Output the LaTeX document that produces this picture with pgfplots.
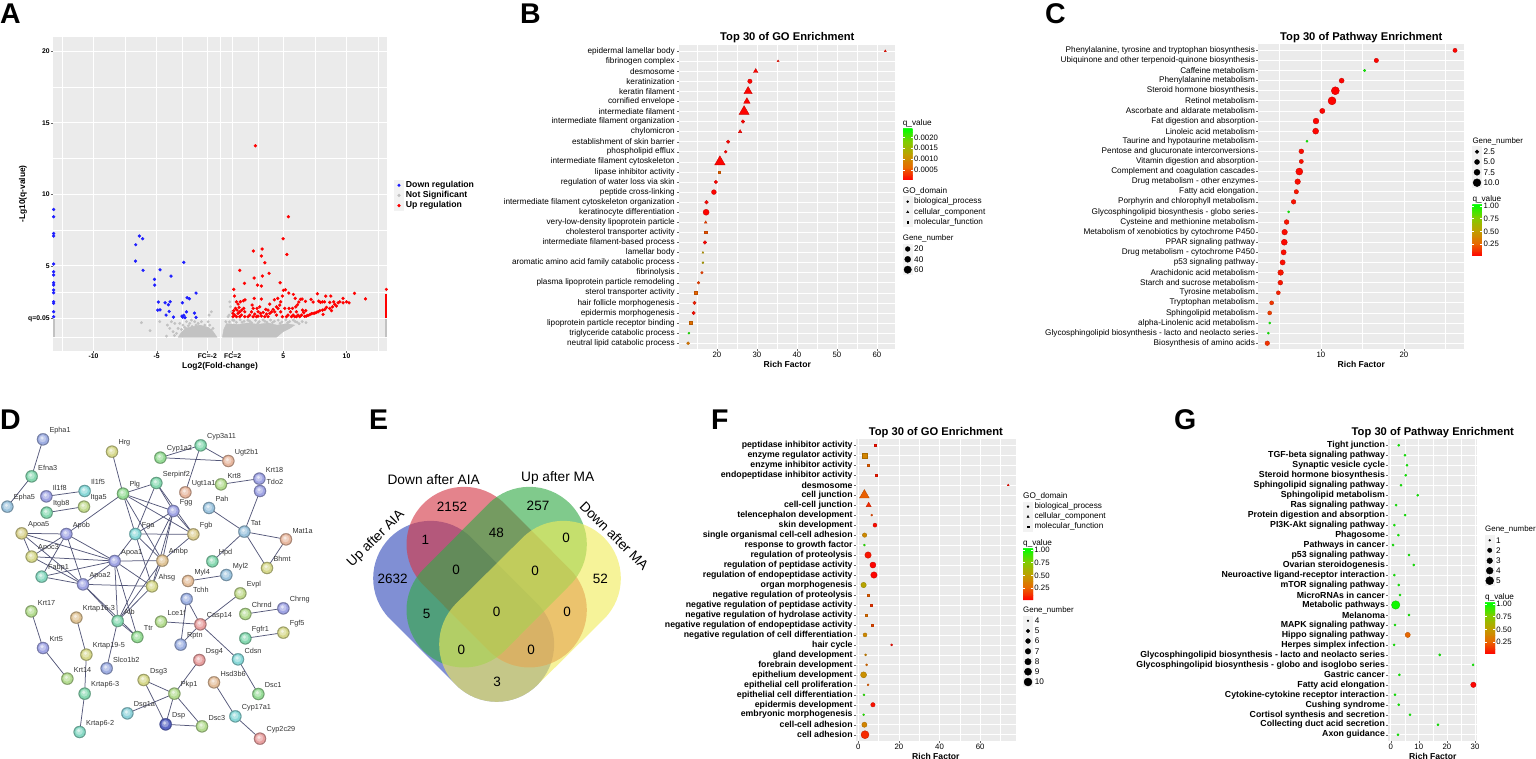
\documentclass[border=0pt]{standalone}
\usepackage{fontspec}
\setmainfont{Liberation Sans}
\usepackage{pgfplots}
\usepackage{pgfplotstable}
\pgfplotsset{compat=1.18}

\definecolor{panelbg}{HTML}{EBEBEB}
\definecolor{keybg}{HTML}{F2F2F2}
\definecolor{upred}{HTML}{FF0000}
\definecolor{downblue}{HTML}{1E1EFF}
\definecolor{nsgray}{HTML}{C2C2C2}
\definecolor{edgec}{HTML}{55587A}
\definecolor{vblue}{RGB}{50,75,185}
\definecolor{vred}{RGB}{212,55,70}
\definecolor{vgreen}{RGB}{50,170,70}
\definecolor{vyellow}{RGB}{240,235,90}
% string node colours
\definecolor{pblue}{HTML}{A0A4E4}
\definecolor{psky}{HTML}{9CC4DE}
\definecolor{pdark}{HTML}{5A66C4}
\definecolor{pgreen}{HTML}{96DC96}
\definecolor{plime}{HTML}{B4DC90}
\definecolor{pmint}{HTML}{86D8B0}
\definecolor{pcyan}{HTML}{88D8D8}
\definecolor{pyellow}{HTML}{D6D88C}
\definecolor{ptan}{HTML}{E0C496}
\definecolor{psalmon}{HTML}{E8B8A0}
\definecolor{ppink}{HTML}{E8A0A0}

\pgfplotsset{
  colormap={rg}{rgb255(0cm)=(255,0,0); rgb255(1cm)=(232,105,0); rgb255(2cm)=(190,160,0); rgb255(3cm)=(127,205,0); rgb255(4cm)=(0,255,0)},
  /pgf/number format/assume math mode=true,
  panel/.style={
    scale only axis, anchor=south west,
    axis background/.style={fill=panelbg},
    axis line style={draw=none},
    grid=both,
    major grid style={white,line width=0.7pt},
    minor grid style={white,line width=0.35pt},
    major tick length=2pt, minor tick length=0pt,
    tick pos=left, tick align=outside,
    tick style={color=black!60,line width=0.4pt},
    title style={font=\fontsize{11.2}{12}\bfseries,at={(0.5,1)},anchor=center,yshift=1pt},
    xlabel style={font=\fontsize{8.6}{10}\bfseries,at={(0.5,0)},anchor=center,yshift=-15.4pt},
    x tick label style={font=\fontsize{7.8}{9}\selectfont,inner sep=1pt},
    y tick label style={font=\fontsize{8.2}{9}\selectfont,inner sep=1.2pt},
  },
  enrich/.style={
    panel,
    y dir=reverse, ymin=0.4, ymax=30.6, ytick={1,...,30},
    colormap name=rg,
    xlabel={Rich Factor},
  },
  bub/.style={
    scatter, only marks, mark=#1, point meta=\thisrow{q},
    visualization depends on={\thisrow{r}\as\rr},
    scatter/@pre marker code/.append style={/tikz/mark size=\rr},
  },
  qbar/.style n args={3}{
    colorbar sampled,
    colorbar style={
      at={(#1,#2)}, anchor=north west, width=10pt, height=51.7pt,
      samples=60, axis line style={draw=none},
      tick align=inside, major tick length=2pt,
      scaled y ticks=false,
      ytick style={color=white,line width=0.3pt},
      y tick label style={font=\fontsize{7.8}{9}\selectfont,inner sep=1.2pt},
      #3
    },
  },
  net/.style={
    scale only axis, anchor=south west, hide axis, clip=false,
    xmin=0, xmax=1020, ymin=0, ymax=1137, y dir=reverse,
    width=340pt, height=379pt,
  },
}

\newcommand{\lab}[3]{\node[anchor=west,inner sep=0pt,font=\fontsize{#3}{#3}\selectfont] at (axis cs:#1) {#2};}
\newcommand{\panlab}[3]{\node[anchor=base west,inner sep=0pt,font=\fontsize{28.5}{30}\bfseries] at (axis cs:#1,#2) {#3};}
\newcommand{\keybar}[3]{\addplot[draw=keybg,line width=10pt,forget plot] coordinates {(#1,#2) (#1,#3)};}
\newcommand{\keym}[4]{\addplot[only marks,mark=#1,mark size=#2pt,color=black,forget plot] coordinates {(#3,#4)};}
\newcommand{\edge}[4]{\addplot[edgec,line width=0.75pt,forget plot] coordinates {(#1,#2) (#3,#4)};}
% a node: rim, body, soft highlight
\newcommand{\gn}[4]{%
  \addplot[only marks,mark=*,mark size=6.1pt,mark options={fill=#3!72!black,draw=#3!72!black,line width=0.2pt},forget plot] coordinates {(#1,#2)};
  \addplot[only marks,mark=*,mark size=5.1pt,mark options={fill=#3,draw=#3,line width=0.2pt},forget plot] coordinates {(#1,#2)};
  \addplot[only marks,mark=*,mark size=3.4pt,mark options={fill=#3!65!white,draw=#3!65!white,line width=0.2pt,xshift=-0.4pt,yshift=0.6pt},forget plot] coordinates {(#1,#2)};
  \addplot[only marks,mark=*,mark size=1.5pt,mark options={fill=#3!30!white,draw=#3!30!white,line width=0.2pt,xshift=-0.9pt,yshift=1.3pt},forget plot] coordinates {(#1,#2)};
  \node[anchor=west,inner sep=0pt,text=black!80,font=\fontsize{7.3}{8}\selectfont,xshift=6.3pt,yshift=8.7pt] at (axis cs:#1,#2) {#4};}
\newcommand{\vband}[5]{\addplot[draw=#1,opacity=0.62,line width=115pt,line cap=round,forget plot] coordinates {(#2,#3) (#4,#5)};}
\newcommand{\vnum}[3]{\node[font=\fontsize{13.5}{14}\selectfont,inner sep=0pt] at (axis cs:#1,#2) {#3};}

\begin{document}
\begin{tikzpicture}[x=1pt,y=1pt]
\path[use as bounding box] (0,0) rectangle (1536,759);

% ---- A volcano
\begin{axis}[panel, at={(53pt,408pt)}, width=334pt, height=314pt,
  xmin=-13.2, xmax=13.2, ymin=-0.96, ymax=21,
  xtick={-10,-5,-1,1,5,10}, xticklabels={-10,-5,FC=-2,FC=2,5,10},
  minor xtick={-12.5,-7.5,-3,0,3,7.5,12.5},
  ytick={1.32,5,10,15,20}, yticklabels={q=0.05,5,10,15,20},
  minor ytick={0,3.15,7.5,12.5,17.5},
  x tick label style={font=\fontsize{6.8}{8}\bfseries},
  y tick label style={font=\fontsize{6.8}{8}\bfseries},
  xlabel={Log2(Fold-change)}, ylabel={-Lg10(q-value)},
  xlabel style={font=\fontsize{8.4}{10}\bfseries,yshift=0.4pt},
  ylabel style={font=\fontsize{8.4}{10}\bfseries,at={(0,0.5)},anchor=center,yshift=30pt,rotate=0},
]
\addplot[white,line width=1.3pt,forget plot] coordinates {(-1,-0.96) (-1,21)};
\addplot[white,line width=1.3pt,forget plot] coordinates {(1,-0.96) (1,21)};
\addplot[white,line width=1.3pt,forget plot] coordinates {(-13.2,1.32) (13.2,1.32)};
% dense grey mass
\addplot[fill=nsgray,draw=nsgray,forget plot] coordinates {(0.19,0) (0.3,0.55) (0.51,0.95) (1.5,0.9) (2.2,1.0) (3,0.9) (3.8,1.0) (4.5,0.85) (5.3,0.95) (5.9,0.85) (5.51,0.62) (4.99,0.39) (4.46,0) (0.19,0)};
\addplot[fill=nsgray,draw=nsgray,forget plot] coordinates {(-3.31,0) (-3.05,0.35) (-2.65,0.65) (-2.1,0.75) (-1.6,0.85) (-0.94,0.7) (-0.55,0.4) (-0.23,0) (-3.31,0)};
\addplot[nsgray,line width=1.8pt,forget plot] coordinates {(-13.15,0) (-13.15,1.3)};
\addplot[nsgray,line width=1.8pt,forget plot] coordinates {(13.15,0) (13.15,1.3)};
\addplot[only marks,mark=*,mark size=1.25pt,color=nsgray,forget plot] coordinates {
(-6.21,1.02)(-5.53,0.46)(-4.23,0.08)(-4.76,1.09)(-4.16,0.85)(-3.97,0.62)(-3.71,0.39)(-3.84,1.09)(-3.57,0.97)(-3.31,0.62)(-3.44,0.27)(-3.18,0.97)(-2.92,0.85)(-2.65,1.09)(-2.39,0.97)(-2.26,1.2)(-2,1.09)(-1.73,0.97)(-1.47,1.09)(-1.2,0.85)(-0.94,1.09)(-0.81,0.85)(-0.68,1.78)(-0.86,1.55)(-0.55,0.62)(0.77,2.48)(0.82,2.13)(0.72,1.55)(0.9,1.78)(0.64,1.44)(0.46,1.09)
(1.0,1.2)(1.3,1.05)(1.6,1.22)(1.9,1.12)(2.2,1.2)(2.5,1.02)(2.8,1.18)(3.1,1.1)(3.4,1.22)(3.7,1.05)(4,1.2)(4.3,1.12)(4.6,1.2)(4.9,1.08)(5.2,1.22)(5.5,1.1)(5.8,1.2)(6.1,1.05)(6.5,1.1)(6.8,1.02)
(-3.05,0.55)(-2.8,0.7)(-2.5,0.8)(-2.2,0.75)(-1.9,0.85)(-3.6,0.12)(-1.6,0.72)(-1.3,0.65)(-2.65,0.58)(-2.1,0.6)(-0.7,0.5)
(0.75,1.08)(1.1,1.18)(1.75,1.05)(2.35,1.12)(3.0,0.98)(3.55,1.12)(4.15,1.02)(4.75,0.98)(5.35,1.02)(5.95,1.1)(6.25,0.95)
};
% down regulated
\addplot[only marks,mark=*,mark size=1.45pt,color=downblue] coordinates {
(-6.37,7.08)(-6.11,6.89)(-6.66,6.47)(-6.68,5.33)(-6.08,4.68)(-4.74,4.72)(-2.86,5.24)(-3.87,4.28)(-5.18,4.05)(-5.16,3.65)(-1.89,3.09)(-2.6,2.76)(-2.42,2.69)(-4.87,2.46)(-4.34,2.41)(-3.94,2.48)(-4.08,2.27)(-2.97,2.41)(-4.92,1.9)(-4.74,1.92)(-4.02,1.81)(-4.26,1.55)(-3.68,1.41)(-2.65,1.78)(-2.02,1.69)(-3,1.48)(-2.86,1.53)(-2.94,1.41)(-2.76,1.37)(-1.89,1.39)
(-13.15,8.94)(-13.15,8.43)(-13.15,7.26)(-13.15,7.08)(-13.15,5.12)(-13.15,4.58)(-13.15,4.35)(-13.15,3.81)(-13.15,3.65)(-13.15,3.3)(-13.15,3.11)(-13.15,2.48)(-13.15,2.37)(-13.15,1.79)(-13.15,1.44)
};
% up regulated
\addplot[upred,line width=1.8pt,forget plot] coordinates {(13.15,1.32) (13.15,3.0)};
\addplot[only marks,mark=*,mark size=1.45pt,color=upred] coordinates {
(2.8,13.39)(5.41,8.43)(4.99,6.89)(3.33,6.17)(2.64,6.03)(3.27,5.68)(5.28,5.79)(3.54,5.21)(1.56,4.68)(3.88,4.47)(3.35,4.28)(2.7,4.14)(4.75,3.81)(1.93,3.77)(2.96,3.65)(3.27,3.58)(1.09,3.35)(5.01,3.28)(5.17,3.32)(5.44,3.09)(5.8,3)(10.63,3.07)(11.5,2.69)(7.7,3.04)(8.36,2.88)(8.76,2.88)(1.14,2.88)(4.93,2.88)(9.73,2.72)(2.7,2.72)(3.27,2.67)(1.98,2.62)(1.85,2.55)(1.61,2.48)(1.3,2.48)(1.43,2.32)(4.57,2.72)(4.3,2.62)(4.8,2.48)(5.94,2.72)(6.49,2.67)(6.36,2.65)(6.23,2.46)(6.12,2.27)(6.75,2.51)(7.2,2.65)(7.36,2.46)(7.81,2.53)(7.94,2.44)(8.1,2.48)(8.26,2.48)(8.68,2.44)(8.99,2.48)(9.34,2.41)(9.47,2.48)(9.73,2.41)(10,2.48)(10.2,2.41)
(9.07,2.3)(9.2,2.18)(8.89,2.13)(8.68,2.02)(8.81,1.86)(8.41,2.09)(8.28,1.95)(8.1,1.9)(7.89,1.86)(7.75,1.78)(7.62,1.74)(7.49,1.69)(7.36,1.67)(7.23,1.65)(7.1,1.58)(6.96,1.53)(6.83,1.48)(6.7,1.46)(8.15,1.6)
(1.09,1.86)(1.22,2.02)(1.35,1.9)(1.51,2.09)(1.03,1.67)(1.17,1.55)(1.43,1.67)(1.56,1.78)(1.72,1.9)(1.88,2.02)(1.96,1.78)(1.69,1.55)(2.22,1.44)(2.35,1.55)(2.54,2.25)(2.62,2.02)(2.49,1.78)(2.75,1.62)(2.93,2.02)(3.14,2.13)(3.01,1.78)(3.2,1.67)(2.88,1.44)(3.41,1.74)(3.27,1.48)(3.62,1.95)(3.8,1.9)(3.67,1.62)(3.93,1.67)(4.07,1.78)(3.93,2.32)(4.2,1.95)(4.33,1.78)(4.46,2.13)(4.59,2.02)(4.72,2.25)(4.8,1.78)(4.93,1.44)(5.12,2.02)(5.38,1.55)(5.46,2.02)(5.57,1.78)(5.73,2.02)(5.78,1.55)(5.99,2.13)(6.04,1.78)(6.17,1.55)(6.3,1.44)(6.52,1.9)(6.62,1.72)(6.78,1.86)(5.65,1.44)(5.25,1.44)(1.96,1.44)(1.03,1.44)(1.3,1.44)(1.56,1.44)(2.62,1.44)(3.01,1.48)(3.54,1.44)(3.8,1.44)(5.91,1.44)(4.46,1.55)(6.04,1.44)(6.44,1.55)(13.15,3.35)
};
\end{axis}

% ---- B GO enrichment
\begin{axis}[enrich, at={(679.3pt,409.7pt)}, width=216pt, height=304.3pt,
  title={Top 30 of GO Enrichment},
  y tick label style={inner sep=2.4pt},
  xmin=10.6, xmax=64.6, xtick={20,30,40,50,60}, minor xtick={15,25,35,45,55},
  point meta min=0.00003, point meta max=0.00243,
  yticklabels={epidermal lamellar body,fibrinogen complex,desmosome,keratinization,keratin filament,cornified envelope,intermediate filament,intermediate filament organization,chylomicron,establishment of skin barrier,phospholipid efflux,intermediate filament cytoskeleton,lipase inhibitor activity,regulation of water loss via skin,peptide cross-linking,intermediate filament cytoskeleton organization,keratinocyte differentiation,very-low-density lipoprotein particle,cholesterol transporter activity,intermediate filament-based process,lamellar body,aromatic amino acid family catabolic process,fibrinolysis,plasma lipoprotein particle remodeling,sterol transporter activity,hair follicle morphogenesis,epidermis morphogenesis,lipoprotein particle receptor binding,triglyceride catabolic process,neutral lipid catabolic process},
  qbar={1.0343}{0.7263}{ytick={0.0005,0.0010,0.0015,0.0020},yticklabels={0.0005,0.0010,0.0015,0.0020}},
]
\addplot[bub=*] table {
x y r q
28.25 4 2.2 0.00005
26.5 8 1.8 0.00005
22.8 10 1.7 0.00005
22.2 11 1.4 0.00005
19.75 14 1.7 0.00005
19.25 15 2.4 0.00005
17.4 16 1.8 0.00005
17.3 17 3.0 0.00005
17.0 20 1.8 0.00005
16.5 22 1.0 0.0013
16.25 23 1.3 0.0004
15.4 24 1.3 0.0004
14.4 26 1.7 0.0002
14.2 27 1.7 0.0001
13.0 29 1.0 0.0023
12.8 30 1.5 0.0008
};
\addplot[bub=triangle*] table {
x y r q
62.1 1 1.2 0.0001
35.3 2 1.2 0.0001
29.7 3 2.6 0.00005
27.8 5 4.8 0.00005
27.5 6 3.7 0.00005
26.8 7 5.8 0.00005
25.8 9 2.0 0.00005
20.75 12 6.0 0.00005
17.2 18 1.5 0.0004
16.5 21 1.1 0.0012
};
\addplot[bub=square*] table {
x y r q
20.6 13 1.0 0.0006
17.2 19 1.2 0.0005
14.7 25 1.4 0.0006
13.4 28 1.5 0.0007
};
\end{axis}

% ---- C pathway enrichment
\begin{axis}[enrich, at={(1258.3pt,409.7pt)}, width=206pt, height=305pt,
  title={Top 30 of Pathway Enrichment},
  xmin=2.45, xmax=27.27, xtick={10,20}, minor xtick={5,15,25},
  point meta min=0.02, point meta max=1.03,
  yticklabels={{Phenylalanine, tyrosine and tryptophan biosynthesis},Ubiquinone and other terpenoid-quinone biosynthesis,Caffeine metabolism,Phenylalanine metabolism,Steroid hormone biosynthesis,Retinol metabolism,Ascorbate and aldarate metabolism,Fat digestion and absorption,Linoleic acid metabolism,Taurine and hypotaurine metabolism,Pentose and glucuronate interconversions,Vitamin digestion and absorption,Complement and coagulation cascades,Drug metabolism - other enzymes,Fatty acid elongation,Porphyrin and chlorophyll metabolism,Glycosphingolipid biosynthesis - globo series,Cysteine and methionine metabolism,Metabolism of xenobiotics by cytochrome P450,PPAR signaling pathway,Drug metabolism - cytochrome P450,p53 signaling pathway,Arachidonic acid metabolism,Starch and sucrose metabolism,Tyrosine metabolism,Tryptophan metabolism,Sphingolipid metabolism,alpha-Linolenic acid metabolism,Glycosphingolipid biosynthesis - lacto and neolacto series,Biosynthesis of amino acids},
  qbar={1.0388}{0.4754}{ytick={0.25,0.5,0.75,1},yticklabels={0.25,0.50,0.75,1.00}},
]
\addplot[bub=*] table {
x y r q
26.15 1 2.1 0.03
16.67 2 2.2 0.03
15.26 3 1.2 1.0
12.49 4 2.5 0.03
11.73 5 4.0 0.02
11.33 6 4.0 0.03
10.16 7 2.6 0.03
9.4 8 2.9 0.03
9.36 9 3.0 0.03
8.31 10 1.1 1.0
7.63 11 2.4 0.05
7.63 12 2.1 0.06
7.39 13 3.5 0.04
7.19 14 2.8 0.05
7.03 15 2.2 0.07
6.7 16 2.3 0.06
6.1 17 1.1 1.0
5.86 18 2.4 0.07
5.62 19 2.8 0.05
5.58 20 3.0 0.04
5.5 21 2.6 0.05
5.38 22 2.6 0.05
5.14 23 2.8 0.07
5.1 24 2.4 0.07
4.86 25 2.0 0.1
4.06 26 2.0 0.15
3.82 27 2.0 0.17
3.82 28 1.1 1.0
3.65 29 1.1 1.0
3.53 30 2.3 0.14
};
\end{axis}

% ---- F GO enrichment
\begin{axis}[enrich, at={(856pt,18.3pt)}, width=159.7pt, height=301.4pt,
  title={Top 30 of GO Enrichment},
  y tick label style={font=\fontsize{8.75}{9}\bfseries},
  xmin=-1.13, xmax=77.5, xtick={0,20,40,60}, minor xtick={10,30,50,70},
  point meta min=0.02, point meta max=1.03,
  yticklabels={peptidase inhibitor activity,enzyme regulator activity,enzyme inhibitor activity,endopeptidase inhibitor activity,desmosome,cell junction,cell-cell junction,telencephalon development,skin development,single organismal cell-cell adhesion,response to growth factor,regulation of proteolysis,regulation of peptidase activity,regulation of endopeptidase activity,organ morphogenesis,negative regulation of proteolysis,negative regulation of peptidase activity,negative regulation of hydrolase activity,negative regulation of endopeptidase activity,negative regulation of cell differentiation,hair cycle,gland development,forebrain development,epithelium development,epithelial cell proliferation,epithelial cell differentiation,epidermis development,embryonic morphogenesis,cell-cell adhesion,cell adhesion},
  qbar={1.0457}{0.6383}{ytick={0.25,0.5,0.75,1},yticklabels={0.25,0.50,0.75,1.00}},
]
\addplot[bub=*] table {
x y r q
6.6 8 1.0 0.2
8.2 9 2.0 0.05
3.1 10 2.2 0.42
3.0 11 1.0 0.95
4.8 12 3.2 0.07
7.2 13 3.0 0.03
7.7 14 3.2 0.03
2.6 15 2.7 0.55
3.3 20 2.0 0.42
16.4 21 1.0 0.05
3.6 22 1.0 0.4
4.1 23 1.0 0.3
2.6 24 3.0 0.45
4.8 25 1.0 0.25
2.8 26 1.0 0.95
7.2 27 2.2 0.06
2.6 28 1.0 0.95
3.0 29 2.6 0.4
3.3 30 4.0 0.12
};
\addplot[bub=triangle*] table {
x y r q
73.8 5 1.1 0.05
3.0 6 5.6 0.25
5.1 7 2.9 0.12
};
\addplot[bub=square*] table {
x y r q
8.2 1 1.0 0.06
3.0 2 2.5 0.4
4.8 3 1.0 0.25
8.7 4 1.0 0.08
4.8 16 1.0 0.25
6.25 17 1.0 0.15
4.1 18 1.0 0.3
6.6 19 1.0 0.2
};
\end{axis}

% ---- G pathway enrichment
\begin{axis}[enrich, at={(1388.3pt,18.3pt)}, width=89pt, height=301.4pt,
  title={Top 30 of Pathway Enrichment},
  y tick label style={font=\fontsize{8.75}{9}\bfseries},
  xmin=-0.85, xmax=30.8, xtick={0,10,20,30}, minor xtick={5,15,25},
  point meta min=0.02, point meta max=1.03,
  yticklabels={Tight junction,TGF-beta signaling pathway,Synaptic vesicle cycle,Steroid hormone biosynthesis,Sphingolipid signaling pathway,Sphingolipid metabolism,Ras signaling pathway,Protein digestion and absorption,PI3K-Akt signaling pathway,Phagosome,Pathways in cancer,p53 signaling pathway,Ovarian steroidogenesis,Neuroactive ligand-receptor interaction,mTOR signaling pathway,MicroRNAs in cancer,Metabolic pathways,Melanoma,MAPK signaling pathway,Hippo signaling pathway,Herpes simplex infection,Glycosphingolipid biosynthesis - lacto and neolacto series,Glycosphingolipid biosynthesis - globo and isoglobo series,Gastric cancer,Fatty acid elongation,Cytokine-cytokine receptor interaction,Cushing syndrome,Cortisol synthesis and secretion,Collecting duct acid secretion,Axon guidance},
  qbar={1.0865}{0.4592}{ytick={0.25,0.5,0.75,1},yticklabels={0.25,0.50,0.75,1.00}},
]
\addplot[bub=*] table {
x y r q
2.85 1 1.1 1.0
5.1 2 1.1 1.0
5.8 3 1.1 1.0
5.34 4 1.1 1.0
3.68 5 1.1 1.0
9.6 6 1.1 1.0
1.9 7 1.1 1.0
5.1 8 1.1 1.0
1.3 9 1.1 1.0
2.73 10 1.1 1.0
0.83 11 1.1 1.0
6.52 12 1.1 1.0
8.18 13 1.1 1.0
1.3 14 1.1 1.0
2.85 15 1.1 1.0
3.32 16 1.1 1.0
1.78 17 4.2 1.0
6.52 18 1.1 1.0
1.54 19 1.1 1.0
6.05 20 2.6 0.27
1.19 21 1.1 1.0
17.44 22 1.1 1.0
29.3 23 1.1 1.0
3.08 24 1.1 1.0
29.4 25 2.7 0.03
1.54 26 1.1 1.0
2.85 27 1.1 1.0
6.88 28 1.1 1.0
16.84 29 1.1 1.0
2.6 30 1.1 1.0
};
\end{axis}

% ---- D interaction network
\begin{axis}[net, at={(0pt,0pt)}]
\edge{129}{178}{95}{289}
\edge{95}{289}{22}{380}
\edge{139}{349}{254}{333}
\edge{140}{398}{252}{380}
\edge{336}{215}{369}{341}
\edge{369}{341}{469}{309}
\edge{369}{341}{199}{462}
\edge{369}{341}{406}{462}
\edge{369}{341}{520}{393}
\edge{369}{341}{580}{463}
\edge{369}{341}{487}{542}
\edge{469}{309}{406}{462}
\edge{469}{309}{520}{393}
\edge{469}{309}{580}{463}
\edge{520}{393}{406}{462}
\edge{520}{393}{580}{463}
\edge{406}{462}{580}{463}
\edge{520}{393}{487}{542}
\edge{520}{393}{353}{723}
\edge{520}{393}{456}{619}
\edge{406}{462}{487}{542}
\edge{406}{462}{456}{619}
\edge{406}{462}{344}{543}
\edge{580}{463}{487}{542}
\edge{487}{542}{353}{723}
\edge{456}{619}{353}{723}
\edge{456}{619}{487}{542}
\edge{344}{543}{487}{542}
\edge{344}{543}{456}{619}
\edge{344}{543}{249}{613}
\edge{344}{543}{199}{462}
\edge{344}{543}{65}{460}
\edge{344}{543}{95}{530}
\edge{344}{543}{125}{590}
\edge{344}{543}{353}{723}
\edge{344}{543}{412}{771}
\edge{249}{613}{456}{619}
\edge{249}{613}{353}{723}
\edge{249}{613}{412}{771}
\edge{249}{613}{199}{462}
\edge{249}{613}{65}{460}
\edge{249}{613}{95}{530}
\edge{249}{613}{125}{590}
\edge{199}{462}{65}{460}
\edge{199}{462}{95}{530}
\edge{199}{462}{125}{590}
\edge{65}{460}{95}{530}
\edge{353}{723}{412}{771}
\edge{353}{723}{320}{865}
\edge{481}{233}{602}{196}
\edge{481}{233}{685}{243}
\edge{602}{196}{685}{243}
\edge{602}{196}{556}{337}
\edge{663}{313}{778}{296}
\edge{780}{333}{733}{455}
\edge{627}{384}{733}{455}
\edge{733}{455}{858}{478}
\edge{733}{455}{637}{544}
\edge{733}{455}{801}{564}
\edge{858}{478}{801}{564}
\edge{564}{603}{679}{585}
\edge{560}{657}{601}{733}
\edge{560}{657}{542}{794}
\edge{483}{725}{601}{733}
\edge{542}{794}{601}{733}
\edge{721}{640}{601}{733}
\edge{601}{733}{714}{838}
\edge{714}{838}{775}{942}
\edge{736}{702}{850}{685}
\edge{736}{775}{850}{758}
\edge{94}{694}{129}{804}
\edge{129}{804}{202}{896}
\edge{229}{713}{259}{824}
\edge{259}{824}{254}{941}
\edge{254}{941}{239}{1056}
\edge{598}{840}{523}{941}
\edge{431}{900}{523}{941}
\edge{431}{900}{497}{1033}
\edge{523}{941}{382}{1000}
\edge{523}{941}{497}{1033}
\edge{523}{941}{606}{1039}
\edge{497}{1033}{606}{1039}
\edge{642}{907}{706}{1009}
\edge{706}{1009}{780}{1076}
\gn{129}{178}{pblue!70!psky}{Epha1}
\gn{95}{289}{pmint}{Efna3}
\gn{22}{380}{psky}{Epha5}
\gn{139}{349}{pblue}{Il1f8}
\gn{254}{333}{pcyan}{Il1f5}
\gn{140}{398}{pmint}{Itgb8}
\gn{252}{380}{plime!60!pyellow}{Itga5}
\gn{336}{215}{pyellow}{Hrg}
\gn{369}{341}{pgreen}{Plg}
\gn{469}{309}{pmint}{Serpinf2}
\gn{481}{233}{pgreen}{Cyp1a2}
\gn{602}{196}{pmint}{Cyp3a11}
\gn{685}{243}{psalmon}{Ugt2b1}
\gn{556}{337}{psalmon}{Ugt1a1}
\gn{663}{313}{plime}{Krt8}
\gn{778}{296}{pblue}{Krt18}
\gn{780}{333}{pblue}{Tdo2}
\gn{627}{384}{psky}{Pah}
\gn{520}{393}{pblue}{Fgg}
\gn{580}{463}{ptan!50!pyellow}{Fgb}
\gn{406}{462}{pcyan}{Fga}
\gn{733}{455}{psky}{Tat}
\gn{858}{478}{psalmon}{Mat1a}
\gn{65}{460}{pyellow!70!ptan}{Apoa5}
\gn{199}{462}{pblue}{Apob}
\gn{95}{530}{pyellow}{Apoc3}
\gn{344}{543}{pblue}{Apoa1}
\gn{487}{542}{ptan}{Ambp}
\gn{637}{544}{pmint}{Hpd}
\gn{801}{564}{pyellow}{Bhmt}
\gn{125}{590}{pmint!60!pcyan}{Fabp1}
\gn{249}{613}{pblue}{Apoa2}
\gn{456}{619}{pyellow}{Ahsg}
\gn{564}{603}{ptan!50!psalmon}{Myl4}
\gn{679}{585}{psky}{Myl2}
\gn{560}{657}{pblue!60!psky}{Tchh}
\gn{721}{640}{plime!60!pyellow}{Evpl}
\gn{736}{702}{plime}{Chrnd}
\gn{850}{685}{pblue}{Chrng}
\gn{94}{694}{plime}{Krt17}
\gn{229}{713}{ptan}{Krtap16-3}
\gn{353}{723}{pmint}{Alb}
\gn{483}{725}{plime}{Lce1f}
\gn{601}{733}{ppink}{Casp14}
\gn{412}{771}{pgreen}{Ttr}
\gn{736}{775}{pmint}{Fgfr1}
\gn{850}{758}{pyellow}{Fgf5}
\gn{542}{794}{pblue!60!psky}{Rptn}
\gn{129}{804}{pblue}{Krt5}
\gn{259}{824}{pyellow}{Krtap19-5}
\gn{320}{865}{pblue!70!psky}{Slco1b2}
\gn{714}{838}{pcyan}{Cdsn}
\gn{598}{840}{ppink}{Dsg4}
\gn{202}{896}{plime}{Krt14}
\gn{431}{900}{pyellow}{Dsg3}
\gn{642}{907}{ptan!50!psalmon}{Hsd3b6}
\gn{254}{941}{pmint}{Krtap6-3}
\gn{523}{941}{plime}{Pkp1}
\gn{775}{942}{pgreen}{Dsc1}
\gn{382}{1000}{pcyan!70!psky}{Dsg1a}
\gn{706}{1009}{pcyan}{Cyp17a1}
\gn{497}{1033}{pdark}{Dsp}
\gn{606}{1039}{plime}{Dsc3}
\gn{239}{1056}{pmint!50!pcyan}{Krtap6-2}
\gn{780}{1076}{ppink}{Cyp2c29}
\end{axis}

% ---- E venn
\begin{axis}[net, at={(340pt,0pt)}]
\vband{vblue}{272}{595}{470}{793}
\vband{vred}{372}{493}{568}{690}
\vband{vgreen}{568}{493}{372}{690}
\vband{vyellow}{670}{595}{470}{793}
\node[font=\fontsize{13.7}{15}\selectfont,inner sep=0pt] at (axis cs:281,298) {Down after AIA};
\node[font=\fontsize{13.7}{15}\selectfont,inner sep=0pt] at (axis cs:653,295) {Up after MA};
\node[font=\fontsize{13.7}{15}\selectfont,inner sep=0pt,rotate=45] at (axis cs:108,477) {Up after AIA};
\node[font=\fontsize{13.7}{15}\selectfont,inner sep=0pt,rotate=-45] at (axis cs:823,467) {Down after MA};
\vnum{158}{598}{2632}
\vnum{336}{382}{2152}
\vnum{594}{378}{257}
\vnum{781}{596}{52}
\vnum{256}{481}{1}
\vnum{469}{458}{48}
\vnum{678}{473}{0}
\vnum{348}{570}{0}
\vnum{585}{572}{0}
\vnum{260}{703}{5}
\vnum{470}{697}{0}
\vnum{681}{695}{0}
\vnum{364}{811}{0}
\vnum{573}{809}{0}
\vnum{471}{906}{3}
\end{axis}

% ---- panel letters and legends, in image pixels
\begin{axis}[scale only axis, anchor=south west, at={(0pt,0pt)}, width=1536pt, height=759pt,
  hide axis, clip=false, xmin=0, xmax=1536, ymin=0, ymax=759, y dir=reverse]
\panlab{0}{24}{A}
\panlab{520}{24}{B}
\panlab{1045}{24}{C}
\panlab{0}{429}{D}
\panlab{369}{429}{E}
\panlab{711}{429}{F}
\panlab{1174}{429}{G}

% A legend
\keybar{399}{180.5}{211}
\addplot[only marks,mark=*,mark size=1.4pt,color=downblue,forget plot] coordinates {(399,185.3)};
\addplot[only marks,mark=*,mark size=1.4pt,color=nsgray,forget plot] coordinates {(399,195.4)};
\addplot[only marks,mark=*,mark size=1.4pt,color=upred,forget plot] coordinates {(399,205.6)};
\node[anchor=west,inner sep=0pt,font=\fontsize{8.7}{9}\bfseries] at (axis cs:405.7,185.3) {Down regulation};
\node[anchor=west,inner sep=0pt,font=\fontsize{8.7}{9}\bfseries] at (axis cs:405.7,195.4) {Not Significant};
\node[anchor=west,inner sep=0pt,font=\fontsize{8.7}{9}\bfseries] at (axis cs:405.7,205.6) {Up regulation};

% B legend
\lab{902.7,123}{q\_value}{8.2}
\lab{902.7,191}{GO\_domain}{8.2}
\keybar{907.7}{196.5}{227.5}
\keym{*}{1}{907.7}{201.7}
\keym{triangle*}{1.2}{907.7}{212}
\keym{square*}{0.9}{907.7}{222.3}
\lab{914,201.7}{biological\_process}{8.2}
\lab{914,212}{cellular\_component}{8.2}
\lab{914,222.3}{molecular\_function}{8.2}
\lab{902.7,238.7}{Gene\_number}{7.9}
\keybar{907.7}{244}{275}
\keym{*}{2.4}{907.7}{249}
\keym{*}{3}{907.7}{259.3}
\keym{*}{3.7}{907.7}{269.7}
\lab{914,249}{20}{8.2}
\lab{914,259.3}{40}{8.2}
\lab{914,269.7}{60}{8.2}

% C legend
\lab{1472.3,141.3}{Gene\_number}{7.9}
\keybar{1477}{146.5}{188}
\keym{*}{1.8}{1477}{151.7}
\keym{*}{2.5}{1477}{162}
\keym{*}{3}{1477}{172.3}
\keym{*}{3.9}{1477}{182.7}
\lab{1483.3,151.7}{2.5}{8.2}
\lab{1483.3,162}{5.0}{8.2}
\lab{1483.3,172.3}{7.5}{8.2}
\lab{1483.3,182.7}{10.0}{8.2}
\lab{1472.3,199.3}{q\_value}{8.2}

% F legend
\lab{1023,496}{GO\_domain}{8.2}
\keybar{1028}{501.5}{532}
\keym{*}{1}{1028}{506.7}
\keym{triangle*}{1.2}{1028}{516.7}
\keym{square*}{0.9}{1028}{526.7}
\lab{1034.3,506.7}{biological\_process}{8.2}
\lab{1034.3,516.7}{cellular\_component}{8.2}
\lab{1034.3,526.7}{molecular\_function}{8.2}
\lab{1023,543.3}{q\_value}{8.2}
\lab{1023,610.3}{Gene\_number}{7.9}
\keybar{1028}{615.5}{687}
\keym{*}{0.9}{1028}{620.7}
\keym{*}{1.9}{1028}{631}
\keym{*}{2.4}{1028}{641}
\keym{*}{2.8}{1028}{651.3}
\keym{*}{3.2}{1028}{661.7}
\keym{*}{3.6}{1028}{671.7}
\keym{*}{4}{1028}{682}
\lab{1034.7,620.7}{4}{8.2}
\lab{1034.7,631}{5}{8.2}
\lab{1034.7,641}{6}{8.2}
\lab{1034.7,651.3}{7}{8.2}
\lab{1034.7,661.7}{8}{8.2}
\lab{1034.7,671.7}{9}{8.2}
\lab{1034.7,682}{10}{8.2}

% G legend
\lab{1485,529.7}{Gene\_number}{7.9}
\keybar{1489.7}{535}{586}
\keym{*}{0.9}{1489.7}{540.3}
\keym{*}{2.2}{1489.7}{550.3}
\keym{*}{2.8}{1489.7}{560.7}
\keym{*}{3.4}{1489.7}{570.7}
\keym{*}{4}{1489.7}{580.7}
\lab{1496,540.3}{1}{8.2}
\lab{1496,550.3}{2}{8.2}
\lab{1496,560.7}{3}{8.2}
\lab{1496,570.7}{4}{8.2}
\lab{1496,580.7}{5}{8.2}
\lab{1485,597.3}{q\_value}{8.2}
\end{axis}
\end{tikzpicture}
\end{document}
